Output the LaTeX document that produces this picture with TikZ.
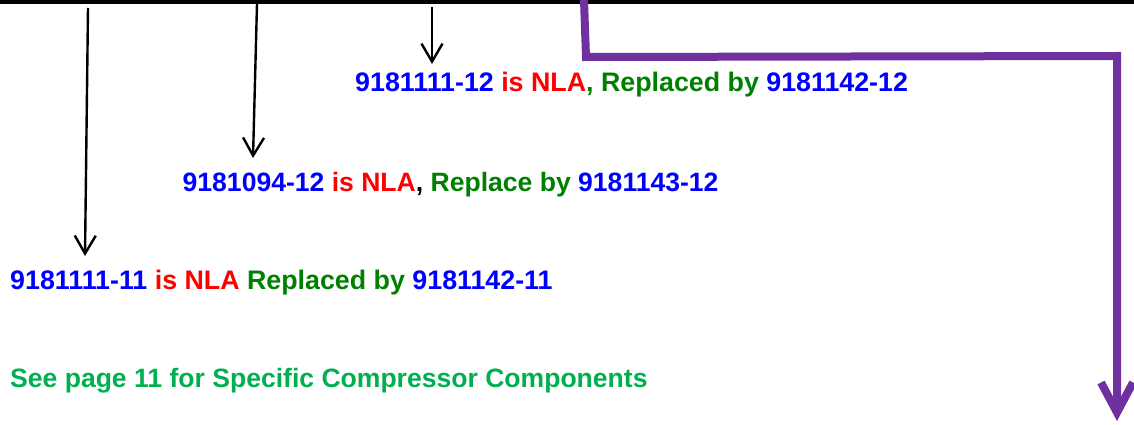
\documentclass[tikz,border=0pt]{standalone}
\usepackage{fontspec}
\setmainfont{Liberation Sans}
\usetikzlibrary{arrows.meta}
\definecolor{pnblue}{HTML}{0000FF}
\definecolor{nlared}{HTML}{FF0000}
\definecolor{repgreen}{HTML}{008000}
\definecolor{seegreen}{HTML}{00B050}
\definecolor{officepurple}{HTML}{7030A0}
\tikzset{
  lbl/.style={anchor=base west, inner sep=0pt, font=\fontsize{26.8}{30}\selectfont\bfseries},
  lblsmall/.style={lbl, font=\fontsize{26.55}{30}\selectfont\bfseries},
  blackarrow/.style={draw=black, line width=2.4pt, -{Straight Barb[length=18pt,width=21pt]}},
  purplearrow/.style={draw=officepurple, line width=8pt, line join=miter, -{Straight Barb[length=30pt,width=32pt]}},
}
\begin{document}
\begin{tikzpicture}[x=1pt,y=-1pt]
\useasboundingbox (0,0) rectangle (1134,425);
\fill[black] (0,0) rectangle (1134,4.5);
% labels
\node[lbl] (l1) at (355,91.5) {\textcolor{pnblue}{9181111-12} \textcolor{nlared}{is NLA}\textcolor{repgreen}{, Replaced by} \textcolor{pnblue}{9181142-12}};
\node[lblsmall] (l2) at (182.5,191) {\textcolor{pnblue}{9181094-12} \textcolor{nlared}{is NLA}, \textcolor{repgreen}{Replace by} \textcolor{pnblue}{9181143-12}};
\node[lbl] (l3) at (10,289.5) {\textcolor{pnblue}{9181111-11} \textcolor{nlared}{is NLA} \textcolor{repgreen}{Replaced by} \textcolor{pnblue}{9181142-11}};
\node[lblsmall, text=seegreen] (l4) at (10,387.5) {See page 11 for Specific Compressor Components};
% arrow coordinates
\coordinate (a1s) at (88,8);
\coordinate (a1e) at (85,256);
\coordinate (a2s) at (257,4);
\coordinate (a2e) at (253,158);
\coordinate (a3s) at (432,7);
\coordinate (a3e) at (432,64);
\coordinate (p0) at (584,0);
\coordinate (p1) at (586,57);
\coordinate (p2) at (1117,56);
\coordinate (p3) at (1117,421);
\draw[blackarrow] (a1s) -- (a1e);
\draw[blackarrow] (a2s) -- (a2e);
\draw[blackarrow] (a3s) -- (a3e);
\draw[purplearrow] (p0) -- (p1) -- (p2) -- (p3);
\end{tikzpicture}
\end{document}
